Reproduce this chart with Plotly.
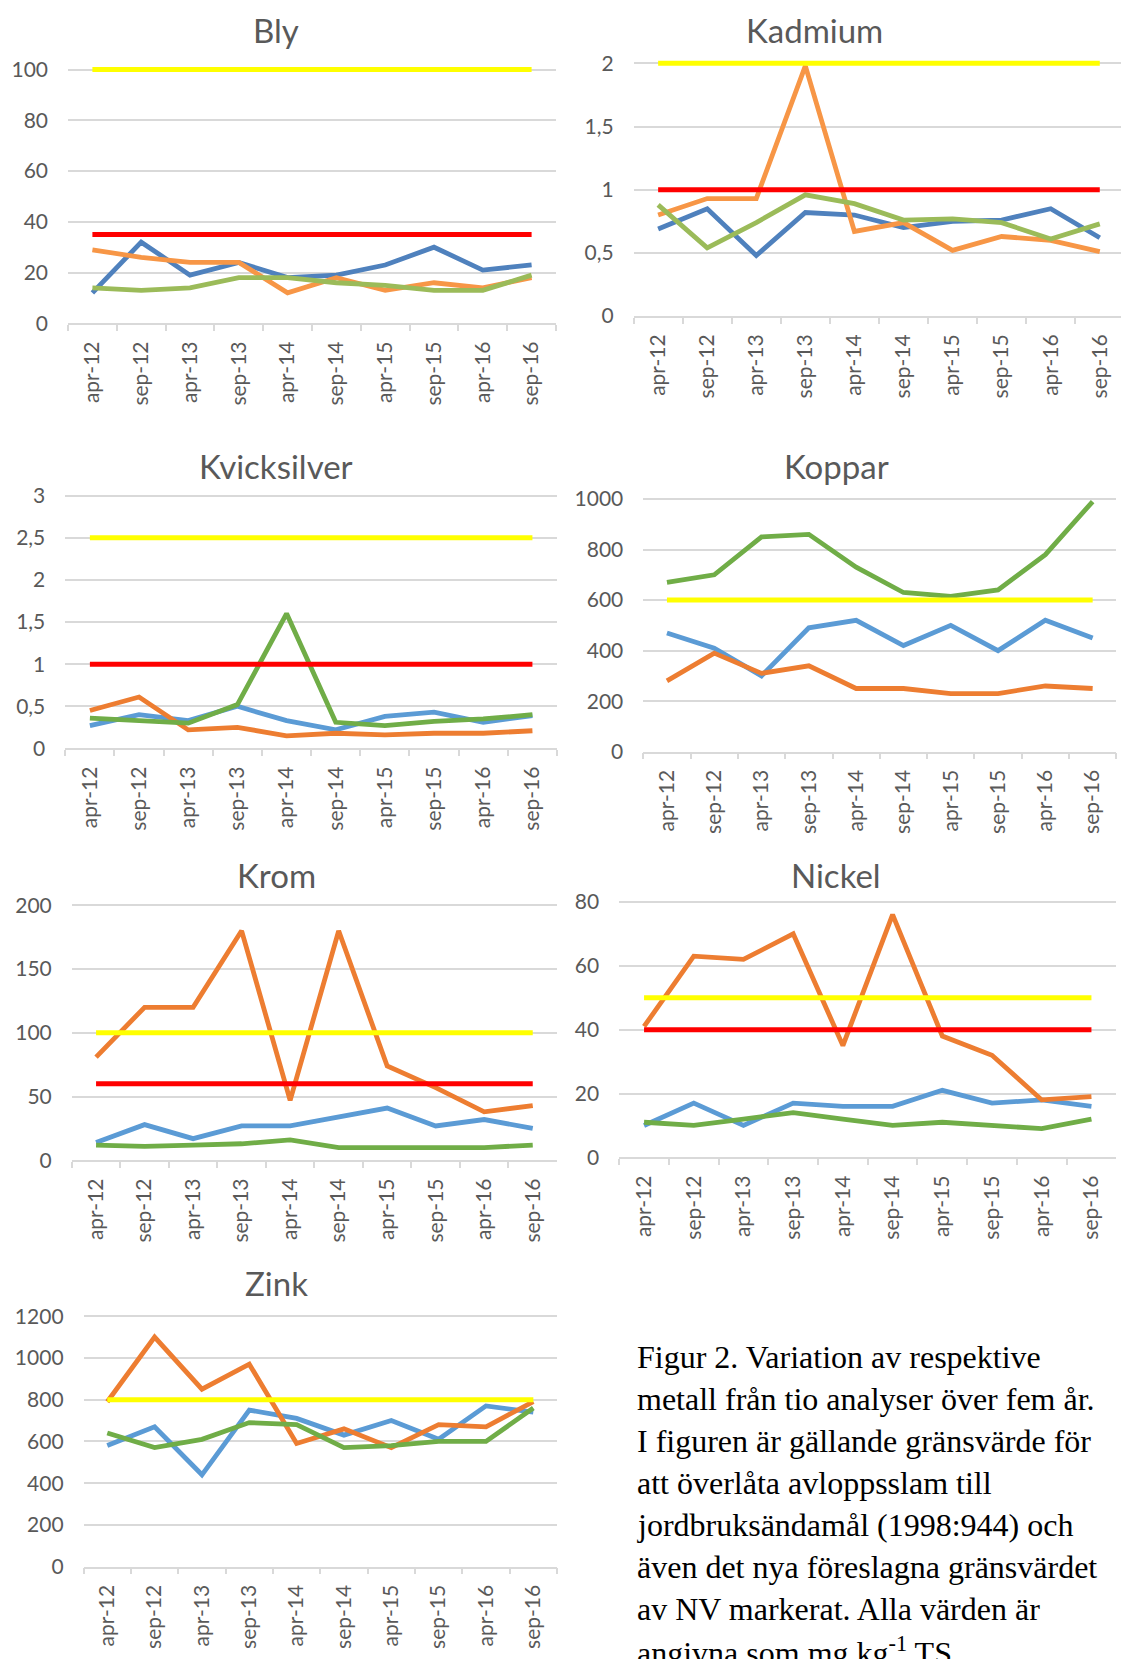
import plotly.graph_objects as go

# Sampling dates (x categories shared by all panels)
dates = ["apr-12", "sep-12", "apr-13", "sep-13", "apr-14",
         "sep-14", "apr-15", "sep-15", "apr-16", "sep-16"]

# Metal concentrations, three series per metal (mg/kg TS)
bly_1 = [12, 32, 19, 24, 18, 19, 23, 30, 21, 23]
bly_2 = [29, 26, 24, 24, 12, 18, 13, 16, 14, 18]
bly_3 = [14, 13, 14, 18, 18, 16, 15, 13, 13, 19]

kadmium_1 = [0.69, 0.85, 0.48, 0.82, 0.80, 0.70, 0.75, 0.76, 0.85, 0.62]
kadmium_2 = [0.80, 0.93, 0.93, 1.98, 0.67, 0.74, 0.52, 0.63, 0.60, 0.51]
kadmium_3 = [0.88, 0.54, 0.74, 0.96, 0.89, 0.76, 0.77, 0.74, 0.61, 0.73]

kvicksilver_1 = [0.27, 0.40, 0.33, 0.50, 0.33, 0.22, 0.38, 0.43, 0.31, 0.39]
kvicksilver_2 = [0.45, 0.61, 0.22, 0.25, 0.15, 0.18, 0.16, 0.18, 0.18, 0.21]
kvicksilver_3 = [0.36, 0.33, 0.30, 0.52, 1.60, 0.31, 0.27, 0.32, 0.35, 0.40]

koppar_1 = [470, 410, 300, 490, 520, 420, 500, 400, 520, 450]
koppar_2 = [280, 390, 310, 340, 250, 250, 230, 230, 260, 250]
koppar_3 = [670, 700, 850, 860, 730, 630, 615, 640, 780, 990]

krom_1 = [14, 28, 17, 27, 27, 34, 41, 27, 32, 25]
krom_2 = [81, 120, 120, 180, 47, 180, 74, 57, 38, 43]
krom_3 = [12, 11, 12, 13, 16, 10, 10, 10, 10, 12]

nickel_1 = [10, 17, 10, 17, 16, 16, 21, 17, 18, 16]
nickel_2 = [41, 63, 62, 70, 35, 76, 38, 32, 18, 19]
nickel_3 = [11, 10, 12, 14, 12, 10, 11, 10, 9, 12]

zink_1 = [580, 670, 440, 750, 710, 630, 700, 610, 770, 740]
zink_2 = [790, 1100, 850, 970, 590, 660, 570, 680, 670, 790]
zink_3 = [640, 570, 610, 690, 680, 570, 580, 600, 600, 760]

# Limit values: current (1998:944) and proposed (NV); None = not marked
current_limits = {"Bly": 100, "Kadmium": 2, "Kvicksilver": 2.5, "Koppar": 600,
                  "Krom": 100, "Nickel": 50, "Zink": 800}
proposed_limits = {"Bly": 35, "Kadmium": 1, "Kvicksilver": 1, "Koppar": None,
                   "Krom": 60, "Nickel": 40, "Zink": None}

# Y axis tick settings per metal: (axis max, tick step)
y_ticks = {"Bly": (100, 20), "Kadmium": (2, 0.5), "Kvicksilver": (3, 0.5),
           "Koppar": (1000, 200), "Krom": (200, 50), "Nickel": (80, 20),
           "Zink": (1200, 200)}

caption_lines = [
    "Figur 2. Variation av respektive",
    "metall från tio analyser över fem år.",
    "I figuren är gällande gränsvärde för",
    "att överlåta avloppsslam till",
    "jordbruksändamål (1998:944) och",
    "även det nya föreslagna gränsvärdet",
    "av NV markerat. Alla värden är",
    "angivna som mg kg<sup>-1</sup> TS",
]

series = {
    "Bly": (bly_1, bly_2, bly_3),
    "Kadmium": (kadmium_1, kadmium_2, kadmium_3),
    "Kvicksilver": (kvicksilver_1, kvicksilver_2, kvicksilver_3),
    "Koppar": (koppar_1, koppar_2, koppar_3),
    "Krom": (krom_1, krom_2, krom_3),
    "Nickel": (nickel_1, nickel_2, nickel_3),
    "Zink": (zink_1, zink_2, zink_3),
}

# ---- styling / layout ----
W, H = 1121, 1659
OLD_PALETTE = ["#4F81BD", "#F79646", "#9BBB59"]
NEW_PALETTE = ["#5B9BD5", "#ED7D31", "#70AD47"]
GRID = "#D9D9D9"
TEXT = "#595959"
FONT = "Lato"

# pixel geometry of each panel: plot left/right, y of top tick, y of zero,
# slot width of one category (when the plot runs off the page), title centre
panels = [
    dict(name="Bly", l=68, r=556, top=62.3, zero=319, tx=276, ty=22.5, pal=OLD_PALETTE),
    dict(name="Kadmium", l=633.6, r=1121, slot=49.07, top=56, zero=311.7, tx=814, ty=22.5, pal=OLD_PALETTE),
    dict(name="Kvicksilver", l=65.3, r=557, top=493.3, zero=749, tx=276, ty=463.3, pal=NEW_PALETTE),
    dict(name="Koppar", l=643.3, r=1116.3, top=496.7, zero=752.3, tx=836, ty=463.3, pal=NEW_PALETTE),
    dict(name="Krom", l=71.8, r=557, top=907.7, zero=1165.7, tx=276, ty=877.5, pal=NEW_PALETTE),
    dict(name="Nickel", l=619.2, r=1116.3, top=904.3, zero=1162.7, tx=836, ty=877.5, pal=NEW_PALETTE),
    dict(name="Zink", l=83.6, r=557, top=1323.3, zero=1576.7, tx=276, ty=1290, pal=NEW_PALETTE),
]
TOP_PAD = 6   # extra pixels above the top tick so limit lines are not clipped

fig = go.Figure()
layout = dict(
    width=W, height=H, margin=dict(l=0, r=0, t=0, b=0),
    paper_bgcolor="white", plot_bgcolor="white",
    showlegend=False, separators=", ",
    annotations=[],
)

for i, p in enumerate(panels):
    n = "" if i == 0 else str(i + 1)
    name = p["name"]
    ymax, step = y_ticks[name]
    span_pix = p["zero"] - p["top"]
    yr_max = ymax * (span_pix + TOP_PAD) / span_pix
    x_hi = -0.5 + (p["r"] - p["l"]) / p["slot"] if "slot" in p else 9.5
    layout["xaxis" + n] = dict(
        domain=[p["l"] / W, p["r"] / W], anchor="y" + n,
        type="category", categoryorder="array", categoryarray=dates,
        range=[-0.5, x_hi],
        showline=True, linecolor=GRID, linewidth=1.5,
        ticks="outside", tickson="boundaries", ticklen=6, tickcolor=GRID, tickwidth=1.5,
        tickangle=-90, tickfont=dict(family=FONT, size=21, color=TEXT),
        ticklabelstandoff=8,
        showgrid=False, zeroline=False, fixedrange=True,
    )
    layout["yaxis" + n] = dict(
        domain=[1 - p["zero"] / H, 1 - (p["top"] - TOP_PAD) / H], anchor="x" + n,
        range=[0, yr_max], tick0=0, dtick=step,
        showgrid=True, gridcolor=GRID, gridwidth=1.5,
        zeroline=False, showline=False, ticks="",
        tickfont=dict(family=FONT, size=21, color=TEXT),
        ticklabelstandoff=19, fixedrange=True,
    )

    for values, colour in zip(series[name], p["pal"]):
        fig.add_trace(go.Scatter(
            x=dates, y=values, mode="lines",
            line=dict(color=colour, width=4.8),
            xaxis="x" + n, yaxis="y" + n, hoverinfo="skip",
        ))
    for lim, colour in ((proposed_limits[name], "#FF0000"), (current_limits[name], "#FFFF00")):
        if lim is None:
            continue
        fig.add_trace(go.Scatter(
            x=dates, y=[lim] * len(dates), mode="lines",
            line=dict(color=colour, width=5),
            xaxis="x" + n, yaxis="y" + n, hoverinfo="skip",
        ))

    layout["annotations"].append(dict(
        text=name, x=p["tx"] / W, y=1 - p["ty"] / H, xref="paper", yref="paper",
        xanchor="center", yanchor="middle", showarrow=False,
        font=dict(family=FONT, size=33, color=TEXT),
    ))

# figure caption, one annotation per line
CAP_X, CAP_BASE0, CAP_STEP, CAP_SIZE = 634.5, 1375, 42.5, 32
for k, line in enumerate(caption_lines):
    baseline = CAP_BASE0 + k * CAP_STEP
    layout["annotations"].append(dict(
        text=line, x=CAP_X / W, y=1 - (baseline - 0.3375 * CAP_SIZE) / H,
        xref="paper", yref="paper", xanchor="left", yanchor="middle",
        showarrow=False, align="left",
        font=dict(family="Liberation Serif", size=CAP_SIZE, color="black"),
    ))

fig.update_layout(layout)
fig.write_html("out.html")
